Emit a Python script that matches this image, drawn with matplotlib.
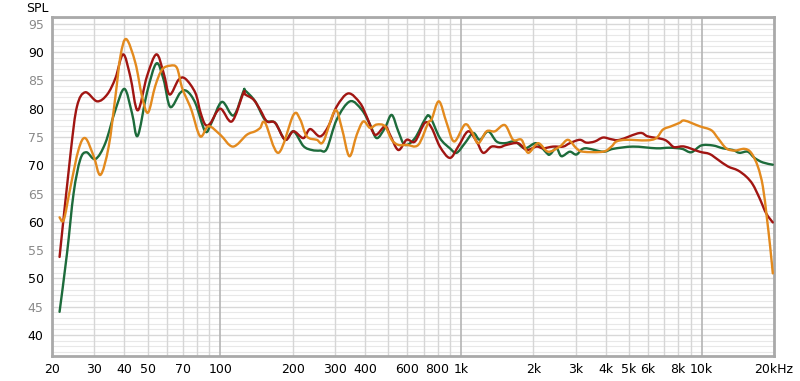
import matplotlib
matplotlib.use("Agg")
import matplotlib.pyplot as plt
from matplotlib.path import Path
from matplotlib.patches import PathPatch
import numpy as np

# ---- data ----
red_f = [21.5, 23.9, 25.4, 27.5, 30.8, 33.9, 36.7, 39.5, 42.3, 45.4, 49.6, 54.3, 58.2, 61.6,
         67.1, 71.6, 78.8, 82.6, 86.6, 90.9, 100, 111.8, 124.9, 127, 137.5, 146.6, 156.3, 169.1,
         186.1, 201.5, 221.6, 236.3, 259.9, 281.5, 305, 340.7, 381, 406.2, 439.8, 483.7, 507.5,
         549.4, 595.2, 644.4, 708.9, 755.7, 818.2, 900.2, 974.5, 1072, 1162, 1238, 1341, 1452,
         1547, 1729, 1874, 2061, 2195, 2415, 2658, 2834, 3117, 3323, 3597, 3896, 4221, 4568,
         5529, 5988, 7023, 7602, 7852, 8501, 9810, 10790, 11690, 12860, 14150, 15330, 16330,
         17410, 18560, 19770]
red_db = [53.8, 72.2, 80.4, 82.9, 81.3, 82.5, 85.4, 89.6, 85.7, 79.7, 85.7, 89.6, 86.3, 82.5,
          85.1, 85.3, 82.8, 79.5, 77.2, 77.4, 80.0, 77.75, 82.8, 82.5, 81.6, 79.8, 77.75, 77.5,
          74.5, 76.0, 74.8, 76.4, 75.1, 76.9, 80.4, 82.7, 81.0, 78.6, 75.4, 76.9, 75.4,
          72.7, 74.5, 74.2, 77.5, 76.6, 73.3, 71.3, 73.3, 76.0, 74.2, 72.2, 73.3, 73.2,
          73.6, 73.9, 72.7, 73.3, 73.0, 73.3, 73.3, 73.9, 74.5, 74.0, 74.2, 74.9, 74.6, 74.5,
          75.7, 75.1, 74.5, 73.3, 73.2, 73.3, 72.4, 72.0, 71.0, 69.8, 69.1, 68.0, 66.6,
          64.2, 61.5, 59.9]

green_f = [21.5, 23.1, 24.6, 26.2, 27.8, 30.3, 33.3, 36.7, 40.0, 43.0, 45.4, 49.6, 54.3, 58.2,
           62.0, 68.2, 72.7, 78.8, 86.6, 92.0, 101.6, 113.6, 124.9, 127, 139.7, 153.7, 169.1,
           186.1, 201.5, 221.6, 240.2, 259.9, 277.2, 305, 346.3, 387.3, 419.3, 446.9, 483.7,
           515.8, 549.4, 585.6, 644.4, 708.9, 743.6, 818.2, 900.2, 959.8, 1039, 1125, 1199,
           1298, 1407, 1523, 1675, 1844, 2061, 2268, 2341, 2495, 2617, 2834, 3021, 3269, 3896,
           4286, 5187, 6486, 7366, 8300, 9063, 9970, 11140, 12260, 13490, 14380, 15560, 16600,
           17970, 19770]
green_db = [44.1, 54.5, 65.1, 71.0, 72.3, 71.1, 73.9, 79.8, 83.5, 79.2, 75.2, 82.8, 88.0, 85.1,
            80.3, 82.8, 83.1, 81.0, 76.0, 77.5, 81.2, 78.8, 83.1, 83.2, 81.3, 78.0, 77.5,
            74.5, 76.0, 73.4, 72.7, 72.6, 72.9, 78.1, 81.3, 79.8, 77.2, 74.8, 76.6,
            78.9, 76.0, 73.6, 74.8, 78.1, 78.6, 74.8, 73.0, 72.2, 73.9, 75.7, 74.5,
            76.0, 74.2, 73.9, 74.2, 73.0, 73.9, 72.2, 71.9, 73.0, 71.6, 72.4, 71.9, 73.0, 72.4,
            72.9, 73.3, 73.0, 73.1, 72.9, 72.3, 73.5, 73.5, 73.0, 72.7, 72.2, 72.4, 71.3,
            70.5, 70.1]

orange_f = [21.5, 22.4, 23.9, 25.8, 27.5, 29.8, 31.8, 34.4, 36.7, 38.5, 40.7, 44.4, 47.3, 50.1,
            53.7, 57.3, 62.0, 66.1, 69.4, 73.9, 76.3, 82.6, 89.4, 100, 112.9, 129.1, 139.7,
            146.6, 153.7, 174.6, 201.5, 214.8, 228.9, 251.9, 268.3, 300.1, 319.9, 344, 369.2,
            393.2, 419.3, 446.9, 483.7, 515.8, 549.4, 595.2, 665, 731.6, 755.7, 810.3, 872.4,
            938, 1039, 1108, 1180, 1279, 1384, 1523, 1648, 1786, 1903, 2093, 2303, 2575, 2787,
            3021, 3217, 3896, 4221, 4427, 4871, 5896, 6486, 6909, 7487, 8103, 8501, 9810, 10970,
            11690, 12660, 13710, 15080, 16080, 17130, 17970, 18660, 19280, 19770]
orange_db = [60.8, 60.4, 66.3, 72.8, 74.8, 71.6, 68.3, 73.3, 82.2, 89.3, 92.3, 88.1, 82.2, 79.3,
             84.0, 86.9, 87.6, 87.2, 83.7, 81.0, 79.5, 75.1, 76.9, 75.4, 73.3, 75.4, 76.0,
             76.6, 77.5, 72.2, 78.9, 78.1, 75.1, 74.5, 74.2, 79.7, 76.6, 71.6, 75.4,
             77.75, 76.6, 77.2, 76.9, 74.5, 73.6, 73.6, 73.6, 77.5, 78.1, 81.3, 77.5,
             74.2, 77.2, 76.0, 73.9, 76.0, 76.0, 77.1, 74.5, 74.5, 72.2, 73.9, 72.4, 73.3, 74.5,
             73.0, 72.4, 72.4, 73.3, 74.2, 74.5, 74.4, 74.8, 76.3, 76.9, 77.5, 77.9, 76.9, 76.2,
             74.8, 73.0, 72.6, 72.9, 72.2, 69.8, 66.3, 60.9, 55.6, 50.9]

x_ticks = [20, 30, 40, 50, 70, 100, 200, 300, 400, 600, 800, 1000, 2000, 3000, 4000, 5000,
           6000, 8000, 10000, 20000]
x_labels = ["20", "30", "40", "50", "70", "100", "200", "300", "400", "600", "800", "1k",
            "2k", "3k", "4k", "5k", "6k", "8k", "10k", "20kHz"]
y_ticks = [40, 45, 50, 55, 60, 65, 70, 75, 80, 85, 90, 95]


def smooth_path(f, db):
    """Bezier path passing through every read point (Catmull-Rom, in log-f space)."""
    x = np.log10(np.asarray(f, float))
    y = np.asarray(db, float)
    n = len(x)
    verts = [(x[0], y[0])]
    codes = [Path.MOVETO]
    for i in range(n - 1):
        x0, y0 = (x[i - 1], y[i - 1]) if i > 0 else (x[i], y[i])
        x3, y3 = (x[i + 2], y[i + 2]) if i + 2 < n else (x[i + 1], y[i + 1])
        c1 = (x[i] + (x[i + 1] - x0) / 6.0, y[i] + (y[i + 1] - y0) / 6.0)
        c2 = (x[i + 1] - (x3 - x[i]) / 6.0, y[i + 1] - (y3 - y[i]) / 6.0)
        verts += [c1, c2, (x[i + 1], y[i + 1])]
        codes += [Path.CURVE4] * 3
    verts = [(10 ** vx, vy) for vx, vy in verts]
    return Path(verts, codes)


# ---- figure ----
fig = plt.figure(figsize=(8.0, 3.81), dpi=100)
ax = fig.add_axes([52 / 800, 25 / 381, 722 / 800, 339 / 381])
ax.set_xscale("log")
ax.set_xlim(20, 20000)
ax.set_ylim(36.3, 96.2)

# grid
for d in range(37, 97):
    ax.axhline(d, color="#d8d8d8" if d % 5 == 0 else "#e8e8e8",
               lw=1.0 if d % 5 == 0 else 0.8, zorder=0)
vgrid = [m * 10 ** e for e in range(1, 5) for m in range(1, 10)]
for v in vgrid:
    if 20 <= v <= 20000:
        major = v in (100, 1000, 10000)
        ax.axvline(v, color="#b4b4b4" if major else "#d6d6d6",
                   lw=1.2 if major else 1.0, zorder=0)

for f, db, col, z in [(green_f, green_db, "#1d6b3b", 3),
                      (red_f, red_db, "#a11512", 4),
                      (orange_f, orange_db, "#e38a1e", 5)]:
    patch = PathPatch(smooth_path(f, db), facecolor="none", edgecolor=col, lw=1.7,
                      zorder=z, transform=ax.transData, joinstyle="round", capstyle="round")
    ax.add_patch(patch)

ax.set_xticks(x_ticks)
ax.set_xticklabels(x_labels)
ax.xaxis.set_minor_locator(matplotlib.ticker.NullLocator())
ax.set_yticks(y_ticks)
ax.set_yticklabels([str(v) for v in y_ticks])
for lab, v in zip(ax.get_yticklabels(), y_ticks):
    lab.set_color("#000000" if v % 10 == 0 else "#8a8a8a")
ax.tick_params(axis="both", length=0, labelsize=9)
ax.tick_params(axis="x", pad=5)
ax.tick_params(axis="y", pad=6)

for s in ax.spines.values():
    s.set_color("#a9a9a9")
    s.set_linewidth(2.0)

fig.text(37.5 / 800, 1 - 8 / 381, "SPL", ha="center", va="center", fontsize=9)

fig.savefig("out.png", dpi=100)
